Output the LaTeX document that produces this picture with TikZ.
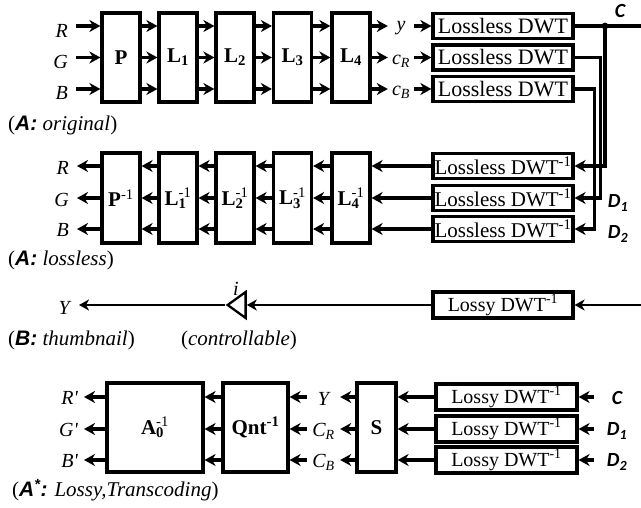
\documentclass[tikz,border=0pt]{standalone}
\usepackage{fontspec}
\setmainfont{Liberation Serif}
\newfontfamily\carl{Carlito}
\newfontfamily\lsans{Liberation Sans}
\usetikzlibrary{arrows.meta,shapes.geometric}
\newcommand\ssup[2]{\rlap{\textsubscript{#1}}\textsuperscript{\mdseries #2}}
\newcommand\bl[1]{{\lsans\bfseries\itshape #1}}
\begin{document}
\begin{tikzpicture}[x=1pt,y=-1pt,
 lw/.style={line width=3.2pt},
 blk/.style={draw,lw,inner sep=0pt,minimum width=38pt,minimum height=89pt,font=\fontsize{21}{22}\selectfont\bfseries},
 dwt/.style={draw,lw,inner sep=0pt,minimum width=140pt,minimum height=25pt,font=\fontsize{21}{22}\selectfont},
 arr/.style={lw,-{Stealth[length=11pt,width=12pt,inset=3.5pt]}},
 tarr/.style={line width=2.3pt,-{Stealth[length=10pt,width=11pt,inset=3pt]}},
 lab/.style={inner sep=0pt,font=\fontsize{20}{21}\selectfont\itshape},
 capt/.style={anchor=west,inner sep=0pt,font=\fontsize{21}{22}\selectfont},
 sig/.style={inner sep=0pt,font=\fontsize{20}{21}\selectfont\carl\bfseries\itshape},
]
\useasboundingbox (0,0) rectangle (641,508);

% ---------- A: original ----------
\coordinate (r1) at (0,26); \coordinate (r2) at (0,57.5); \coordinate (r3) at (0,89);
\node[blk] (P) at (121,57.5) {P};
\node[blk] (L1) at (178,57.5) {L\textsubscript{1}};
\node[blk] (L2) at (235,57.5) {L\textsubscript{2}};
\node[blk] (L3) at (292.5,57.5) {L\textsubscript{3}};
\node[blk] (L4) at (351,57.5) {L\textsubscript{4}};
\node[lab,anchor=east,inner xsep=8pt] (iR) at (76,31) {R};
\node[lab,anchor=east,inner xsep=8pt] (iG) at (76,62) {G};
\node[lab,anchor=east,inner xsep=8pt] (iB) at (76,93) {B};
\draw[arr] (iR.east |- r1) -- (P.west |- r1);
\draw[arr] (iG.east |- r2) -- (P.west |- r2);
\draw[arr] (iB.east |- r3) -- (P.west |- r3);
\foreach \a/\b in {P/L1,L1/L2,L2/L3,L3/L4}
  \foreach \r in {r1,r2,r3} \draw[arr] (\a.east |- \r) -- (\b.west |- \r);
\node[lab,minimum width=26pt] (oy) at (401,28) {y};
\node[lab,minimum width=26pt] (ocr) at (401,61) {c\textsubscript{R}};
\node[lab,minimum width=26pt] (ocb) at (401,92) {c\textsubscript{B}};
\node[dwt,font=\fontsize{22}{23}\selectfont] (W1) at (503,26) {Lossless DWT};
\node[dwt,font=\fontsize{22}{23}\selectfont] (W2) at (503,57.5) {Lossless DWT};
\node[dwt,font=\fontsize{22}{23}\selectfont] (W3) at (503,89) {Lossless DWT};
\draw[arr] (L4.east |- r1) -- (oy.west |- r1);
\draw[arr] (L4.east |- r2) -- (ocr.west |- r2);
\draw[arr] (L4.east |- r3) -- (ocb.west |- r3);
\draw[arr] (oy.east |- r1) -- (W1.west);
\draw[arr] (ocr.east |- r2) -- (W2.west);
\draw[arr] (ocb.east |- r3) -- (W3.west);
\node[capt] (capA1) at (8,125) {(\bl{A:} \textit{original})};

% ---------- A: lossless ----------
\coordinate (m1) at (0,166); \coordinate (m2) at (0,198); \coordinate (m3) at (0,229);
\node[blk,minimum height=90pt] (Pi) at (121,198) {P\textsuperscript{\mdseries -1}};
\node[blk,minimum height=90pt] (L1i) at (178,198) {L\ssup{1}{-1}};
\node[blk,minimum height=90pt] (L2i) at (235,198) {L\ssup{2}{-1}};
\node[blk,minimum height=90pt] (L3i) at (292.5,198) {L\ssup{3}{-1}};
\node[blk,minimum height=90pt] (L4i) at (351,198) {L\ssup{4}{-1}};
\node[dwt] (V1) at (503,166) {Lossless DWT\textsuperscript{-1}};
\node[dwt] (V2) at (503,198) {Lossless DWT\textsuperscript{-1}};
\node[dwt] (V3) at (503,229) {Lossless DWT\textsuperscript{-1}};
\coordinate (J) at (605,26);
\coordinate (Cend) at (641,26);
\draw[lw] (W1.east) -- (Cend);
\fill (J) circle (3.4pt);
\draw[arr] (J) |- (V1.east);
\draw[arr] (W2.east) -- ++(26,0) |- (V2.east);
\draw[arr] (W3.east) -- ++(20,0) |- (V3.east);
\node[sig] (sC) at (620,11) {C};
\node[sig] (sD1) at (618,203) {D\textsubscript{1}};
\node[sig] (sD2) at (618,234) {D\textsubscript{2}};
\draw[arr] (V1.west) -- (L4i.east |- V1.west);
\draw[arr] (V2.west) -- (L4i.east |- V2.west);
\draw[arr] (V3.west) -- (L4i.east |- V3.west);
\foreach \a/\b in {L4i/L3i,L3i/L2i,L2i/L1i,L1i/Pi}
  \foreach \r in {m1,m2,m3} \draw[arr] (\a.west |- \r) -- (\b.east |- \r);
\node[lab,anchor=east,inner xsep=8pt] (oR) at (77,168) {R};
\node[lab,anchor=east,inner xsep=8pt] (oG) at (77,200) {G};
\node[lab,anchor=east,inner xsep=8pt] (oB) at (77,230) {B};
\draw[arr] (Pi.west |- m1) -- (oR.east |- m1);
\draw[arr] (Pi.west |- m2) -- (oG.east |- m2);
\draw[arr] (Pi.west |- m3) -- (oB.east |- m3);
\node[capt] (capA2) at (8,260) {(\bl{A:} \textit{lossless})};

% ---------- B: thumbnail ----------
\node[dwt,minimum height=26pt,font=\fontsize{20}{22}\selectfont] (Lb) at (503,305) {Lossy DWT\textsuperscript{-1}};
\coordinate (Bin) at (641,305);
\draw[tarr] (Bin) -- (Lb.east);
\node[draw,isosceles triangle,shape border rotate=180,isosceles triangle stretches,minimum width=26pt,minimum height=18pt,inner sep=0pt,line width=2.3pt] (T) at (239,305) {};
\draw[tarr] (Lb.west) -- (T.east);
\node[lab,anchor=east,inner xsep=9pt] (oY) at (79,308) {Y};
\draw[tarr] (T.apex) -- (oY.east |- T.apex);
\node[lab] (ii) at (236,289) {i};
\node[capt] (capB) at (8,340) {(\bl{B:} \textit{thumbnail})};
\node[inner sep=0pt,font=\fontsize{21}{22}\selectfont] (capC) at (239,340) {(\textit{controllable})};

% ---------- A*: lossy, transcoding ----------
\coordinate (b1) at (0,397); \coordinate (b2) at (0,429); \coordinate (b3) at (0,460);
\node[blk,minimum width=96pt] (A0) at (155,427.5) {A\ssup{0}{-1}};
\node[blk,minimum width=65pt] (Q) at (255.5,427.5) {Qnt\textsuperscript{-1}};
\node[blk,minimum width=39pt] (S) at (376.5,427.5) {S};
\node[dwt,minimum width=141pt,minimum height=26pt,font=\fontsize{20}{22}\selectfont] (Z1) at (506.5,397) {Lossy DWT\textsuperscript{-1}};
\node[dwt,minimum width=141pt,minimum height=26pt,font=\fontsize{20}{22}\selectfont] (Z2) at (506.5,429) {Lossy DWT\textsuperscript{-1}};
\node[dwt,minimum width=141pt,minimum height=26pt,font=\fontsize{20}{22}\selectfont] (Z3) at (506.5,460) {Lossy DWT\textsuperscript{-1}};
\node[sig,minimum width=46pt] (tC) at (617,398) {C};
\node[sig,minimum width=46pt] (tD1) at (617,431) {D\textsubscript{1}};
\node[sig,minimum width=46pt] (tD2) at (617,462) {D\textsubscript{2}};
\draw[arr] (tC.west |- Z1.east) -- (Z1.east);
\draw[arr] (tD1.west |- Z2.east) -- (Z2.east);
\draw[arr] (tD2.west |- Z3.east) -- (Z3.east);
\draw[arr] (Z1.west) -- (S.east |- Z1.west);
\draw[arr] (Z2.west) -- (S.east |- Z2.west);
\draw[arr] (Z3.west) -- (S.east |- Z3.west);
\node[lab,minimum width=33pt] (sY) at (323.5,399) {Y};
\node[lab,minimum width=33pt] (sCR) at (323.5,431) {C\textsubscript{R}};
\node[lab,minimum width=33pt] (sCB) at (323.5,462) {C\textsubscript{B}};
\node[lab,anchor=east,inner xsep=6pt] (oRp) at (84,398) {R\textquotesingle};
\node[lab,anchor=east,inner xsep=6pt] (oGp) at (84,430) {G\textquotesingle};
\node[lab,anchor=east,inner xsep=6pt] (oBp) at (84,461) {B\textquotesingle};
\foreach \r/\l/\o in {b1/sY/oRp,b2/sCR/oGp,b3/sCB/oBp} {
  \draw[arr] (S.west |- \r) -- (\l.east |- \r);
  \draw[arr] (\l.west |- \r) -- (Q.east |- \r);
  \draw[arr] (Q.west |- \r) -- (A0.east |- \r);
  \draw[arr] (A0.west |- \r) -- (\o.east |- \r);
}
\node[capt] (capA3) at (12,490) {(\bl{A}\textsuperscript{\bl{*}}\bl{:} \textit{Lossy,Transcoding})};
\end{tikzpicture}
\end{document}
